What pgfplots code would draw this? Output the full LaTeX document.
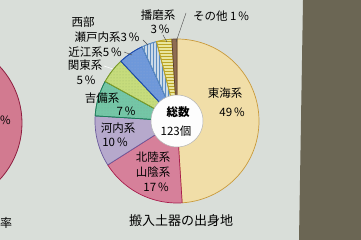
\documentclass[border=0pt]{standalone}
\usepackage{fontspec}
\usepackage{pgfplots}
\pgfplotsset{compat=1.18}
\usetikzlibrary{patterns}
\setmainfont{Noto Sans CJK JP}
\newfontfamily\cjk{Noto Sans CJK JP}

\definecolor{paper}{HTML}{D9DED9}
\definecolor{wall}{HTML}{6B6654}
\definecolor{tokai}{HTML}{F1DEA8}
\definecolor{tokaiD}{HTML}{C99A3C}
\definecolor{hokuriku}{HTML}{D6809A}
\definecolor{hokurikuD}{HTML}{A81C4C}
\definecolor{kawachi}{HTML}{B6A9CC}
\definecolor{kawachiD}{HTML}{6A5A9C}
\definecolor{kibi}{HTML}{74C6A6}
\definecolor{kibiD}{HTML}{1F7E5C}
\definecolor{kanto}{HTML}{C6DC7C}
\definecolor{kantoD}{HTML}{7C9C2C}
\definecolor{omi}{HTML}{6E98DA}
\definecolor{omiD}{HTML}{1E4CAC}
\definecolor{setouchi}{HTML}{CBDAE8}
\definecolor{setouchiD}{HTML}{5C8CC0}
\definecolor{harima}{HTML}{E9E69E}
\definecolor{harimaD}{HTML}{BCA424}
\definecolor{other}{HTML}{8E6C52}
\definecolor{otherD}{HTML}{5A4030}
\definecolor{leftpie}{HTML}{D27A90}
\definecolor{leftpieD}{HTML}{8E1E40}

% Ring slice from cumulative percentage #1 to #2, clockwise from the top
\newcommand{\slice}[5]{%
  \addplot[fill=#3, draw=#4, line width=0.7pt, #5,
    domain={90-3.6*(#2)}:{90-3.6*(#1)}, samples=60, variable=\t]
    ({177+82*cos(\t)},{119+82*sin(\t)}) -- (177,119) -- cycle;
}

\begin{document}
\begin{tikzpicture}
\begin{axis}[
  width=361pt, height=240pt, scale only axis,
  xmin=0, xmax=361, ymin=0, ymax=240,
  axis lines=none, enlargelimits=false,
  axis background/.style={fill=paper},
  font=\cjk\fontsize{11.5}{13}\selectfont,
]
% wall beyond the sheet
\addplot[fill=wall, draw=none] coordinates {(303,240) (361,240) (361,0) (299,0)} -- cycle;

% neighbouring chart, partly cut off
\addplot[fill=leftpie, draw=leftpieD, line width=0.8pt, domain=0:360, samples=90, variable=\t]
  ({-61+83*cos(\t)},{117+83*sin(\t)}) -- cycle;

% slices: 49, 17, 10, 7, 5, 5, 3, 3, 1 (%)
\slice{0}{49}{tokai}{tokaiD}{}
\slice{49}{66}{hokuriku}{hokurikuD}{}
\slice{66}{76}{kawachi}{kawachiD}{}
\slice{76}{83}{kibi}{kibiD}{postaction={pattern=dots, pattern color=kibiD!60}}
\slice{83}{88}{kanto}{kantoD}{postaction={pattern=dots, pattern color=kantoD!70}}
\slice{88}{93}{omi}{omiD}{postaction={pattern=dots, pattern color=omiD!50}}
\slice{93}{96}{setouchi}{setouchiD}{postaction={pattern=vertical lines, pattern color=setouchiD}}
\slice{96}{99}{harima}{harimaD}{postaction={pattern=horizontal lines, pattern color=harimaD}}
\slice{99}{100}{other}{otherD}{}

% centre hole
\addplot[fill=white!95!paper, draw=gray!60, line width=0.5pt, domain=0:360, samples=90, variable=\t]
  ({177+26*cos(\t)},{119+26*sin(\t)}) -- cycle;

% leader lines
\draw[black!70, line width=0.4pt] (axis cs:143,200) -- (axis cs:148,195);
\draw[black!70, line width=0.4pt] (axis cs:124,188) -- (axis cs:132,185);
\draw[white, line width=0.6pt] (axis cs:104,174) -- (axis cs:113,171);
\draw[black!70, line width=0.4pt] (axis cs:163,205) -- (axis cs:167,198);
\draw[black!70, line width=0.4pt] (axis cs:186,227) -- (axis cs:176,198);

% labels
\node at (axis cs:225,147) {東海系};
\node at (axis cs:232,128) {49\,\%};
\node at (axis cs:153,83) {北陸系};
\node at (axis cs:153,68) {山陰系};
\node at (axis cs:156,53) {17\,\%};
\node at (axis cs:118,112) {河内系};
\node at (axis cs:115,98) {10\,\%};
\node at (axis cs:102,142) {吉備系};
\node at (axis cs:126,129) {7\,\%};
\node at (axis cs:85,175) {関東系};
\node at (axis cs:86,160) {5\,\%};
\node at (axis cs:95,188) {近江系5\,\%};
\node at (axis cs:83,218) {西部};
\node at (axis cs:107,203) {瀬戸内系3\,\%};
\node at (axis cs:158,225) {播磨系};
\node at (axis cs:160,211) {3\,\%};
\node at (axis cs:221,224) {その他 1\,\%};
\node[font=\cjk\bfseries\fontsize{11.5}{13}\selectfont] at (axis cs:178,128) {総数};
\node[font=\cjk\fontsize{11.5}{13}\selectfont] at (axis cs:176,109) {123個};
\node[font=\cjk\fontsize{13}{15}\selectfont] at (axis cs:181,19) {搬入土器の出身地};
\node[anchor=west, inner sep=0pt] at (axis cs:0,120) {\%};
\node[anchor=west, inner sep=0pt, font=\cjk\fontsize{12}{14}\selectfont] at (axis cs:0,17) {率};
\end{axis}
\end{tikzpicture}
\end{document}
